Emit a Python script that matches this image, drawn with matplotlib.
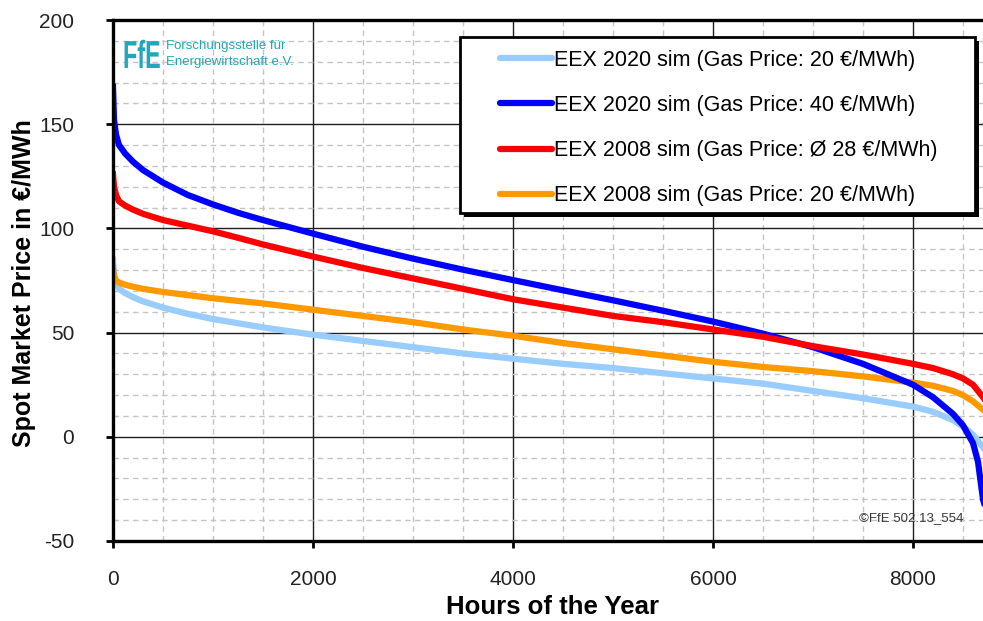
import numpy as np
import matplotlib
matplotlib.use("Agg")
import matplotlib.pyplot as plt
from matplotlib.ticker import MultipleLocator
from matplotlib.lines import Line2D
from matplotlib.patches import Rectangle, PathPatch
from matplotlib.textpath import TextPath
from matplotlib.font_manager import FontProperties
from matplotlib.transforms import Affine2D, IdentityTransform

plt.rcParams['font.family'] = ['Liberation Sans', 'DejaVu Sans']
plt.rcParams['axes.unicode_minus'] = False

# sorted hourly prices (price duration curves)
hours = [0, 10, 30, 60, 120, 200, 300, 500, 750, 1000, 1250, 1500, 2000, 2500, 3000,
         3500, 4000, 4500, 5000, 5500, 6000, 6500, 7000, 7500, 8000, 8200,
         8400, 8500, 8600, 8650, 8700, 8730, 8760]
eex2020_gas20 = [85, 78, 74, 71, 69, 67, 65, 62, 59, 56.5, 54.5, 52.5, 49, 46, 43,
                 40, 37.5, 35, 33, 30.5, 28, 25.5, 22, 18.5, 14.5, 12,
                 8, 5, 1, -2, -5, -7, -9]
eex2020_gas40 = [168, 152, 145, 140, 136, 132, 128, 122, 116, 111.5, 107.5, 104, 97.5, 91.2, 85.5,
                 80.2, 75.2, 70.3, 65.5, 60.5, 55.3, 49.5, 43, 35, 25, 19,
                 11, 5.5, -3, -12, -30, -35, -40]
eex2008_gas28 = [126, 120, 116, 113, 111, 109, 107, 104, 101.3, 98.6, 95.5, 92.3, 86.5, 81, 76,
                 71, 66, 62, 58, 55, 51.5, 48, 43.5, 39.5, 35, 33,
                 30, 28, 25, 22, 19, 17, 15]
eex2008_gas20 = [81, 77, 75, 74, 73, 72, 71, 69.5, 68, 66.5, 65.2, 64, 61, 58, 55,
                 51.5, 48.5, 45, 42, 39, 36, 33.5, 31.5, 29, 26, 24.5,
                 22, 20, 17, 15, 13, 12, 11]

labels = ["EEX 2020 sim (Gas Price: 20 €/MWh)",
          "EEX 2020 sim (Gas Price: 40 €/MWh)",
          "EEX 2008 sim (Gas Price: Ø 28 €/MWh)",
          "EEX 2008 sim (Gas Price: 20 €/MWh)"]
colors = ["#99ccff", "#0000ff", "#ff0000", "#ff9900"]

xticks = [0, 2000, 4000, 6000, 8000]
yticks = [-50, 0, 50, 100, 150, 200]

W, H = 983, 621
fig = plt.figure(figsize=(W / 100, H / 100), dpi=100)
ax = fig.add_axes([113 / W, 80 / H, 876 / W, 521 / H])

lw = 4.5
ax.plot(hours, eex2020_gas20, color=colors[0], lw=lw)
ax.plot(hours, eex2008_gas20, color=colors[3], lw=lw)
ax.plot(hours, eex2020_gas40, color=colors[1], lw=lw)
ax.plot(hours, eex2008_gas28, color=colors[2], lw=lw)

ax.set_xlim(0, 8760)
ax.set_ylim(-50, 200)
ax.set_xticks(xticks)
ax.set_yticks(yticks)
ax.xaxis.set_minor_locator(MultipleLocator(500))
ax.yaxis.set_minor_locator(MultipleLocator(10))
ax.grid(which='major', color='#202020', lw=1.0)
ax.grid(which='minor', color='#c4c4c4', ls=(0, (4, 3)), lw=1.0)
ax.set_axisbelow(True)
ax.tick_params(which='major', length=5, width=2, direction='out',
               labelsize=15, labelcolor='#222222')
ax.tick_params(axis='y', pad=23)
ax.tick_params(axis='x', pad=16)
ax.tick_params(which='minor', length=0)
for s in ['left', 'bottom', 'top']:
    ax.spines[s].set_linewidth(2.4)
ax.spines['right'].set_visible(False)

fig.text(24 / W, 1 - 283 / H, "Spot Market Price in €/MWh", rotation=90,
         ha='center', va='center', fontsize=18, fontweight='bold')
fig.text(553 / W, 1 - 607 / H, "Hours of the Year", ha='center', va='center',
         fontsize=18.5, fontweight='bold')

# legend box with hard shadow
ax.add_patch(Rectangle((464 / W, 1 - 217 / H), 515 / W, 176 / H, transform=fig.transFigure,
                       facecolor='black', edgecolor='none', clip_on=False, zorder=4))
ax.add_patch(Rectangle((460 / W, 1 - 213 / H), 515 / W, 176 / H, transform=fig.transFigure,
                       facecolor='white', edgecolor='black', lw=2, clip_on=False, zorder=4.5))
handles = [Line2D([], [], color=c, lw=4.5, solid_capstyle='round') for c in colors]
leg = ax.legend(handles, labels, loc='center left', bbox_to_anchor=(500 / W, 1 - 128 / H),
                bbox_transform=fig.transFigure, borderaxespad=0, borderpad=0,
                fontsize=15.5, frameon=False, handlelength=2.42, handletextpad=0.1,
                labelspacing=1.12)
leg.set_zorder(6)

# FfE logo
teal = "#22a6bb"
fp = FontProperties(family='Liberation Sans', weight='bold')
tp = TextPath((0, 0), "FfE", size=39, prop=fp)
ax.add_patch(PathPatch(tp, transform=Affine2D().scale(0.6, 1.0).translate(123, H - 68) + IdentityTransform(),
                       facecolor=teal, edgecolor='none', clip_on=False, zorder=3))
fig.text(166 / W, 1 - 46 / H, "Forschungsstelle für", ha='left', va='center',
         fontsize=9.5, color=teal)
fig.text(166 / W, 1 - 62 / H, "Energiewirtschaft e.V.", ha='left', va='center',
         fontsize=9.5, color=teal)

fig.text(911 / W, 1 - 518 / H, "©FfE 502.13_554", ha='center', va='center',
         fontsize=9.5, color='#383838')

fig.savefig("out.png", dpi=100)
